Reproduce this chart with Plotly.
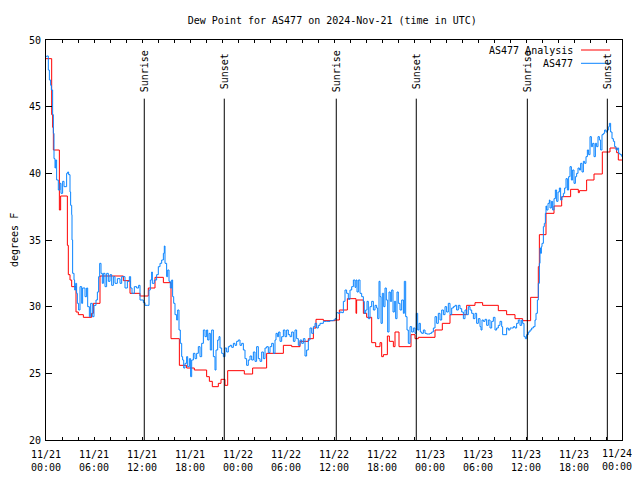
import pandas as pd
import plotly.graph_objects as go

BASE = "2024-11-21 00:00"

# AS477 observations: hours since BASE, dew point (F)
blue_hours = [
    0.0, 0.08, 0.29, 0.42, 0.58, 0.67, 0.83, 0.92, 1.0, 1.125, 1.21, 1.33, 1.54, 1.75, 1.875,
    2.08, 2.25, 2.58, 2.71, 2.83, 3.0, 3.08, 3.21, 3.25, 3.33, 3.5, 3.58, 3.71, 3.83, 3.92,
    4.08, 4.25, 4.46, 4.58, 4.875, 5.08, 5.21, 5.42, 5.58, 5.79, 6.0, 6.25, 6.42, 6.58, 6.71,
    6.875, 7.04, 7.17, 7.375, 7.58, 7.79, 8.0, 8.21, 8.42, 8.625, 8.92, 9.25, 9.46, 9.875,
    10.17, 10.42, 10.58, 10.75, 11.04, 11.33, 11.58, 11.75, 12.17,
    12.375, 12.71, 12.875, 13.04, 13.21, 13.29, 13.54, 13.83, 14.04, 14.25, 14.46, 14.67,
    14.79, 14.875, 15.08, 15.21, 15.375, 15.54, 15.71, 15.83, 15.96, 16.125, 16.33, 16.46,
    16.625, 16.79, 16.96, 17.08, 17.21, 17.375, 17.58, 17.71, 17.92, 18.08, 18.21, 18.42,
    18.625, 18.83, 19.04, 19.25, 19.46, 19.67, 19.875, 20.08, 20.21, 20.375, 20.54, 20.71,
    20.92, 21.125, 21.25, 21.46, 21.625, 21.75, 21.96, 22.17, 22.375, 22.58, 22.79, 23.0,
    23.21, 23.42, 23.625, 23.83, 24.04, 24.25, 24.46, 24.67, 24.875, 25.08, 25.29, 25.5,
    25.71, 25.92, 26.125, 26.33, 26.54, 26.75, 26.96, 27.17, 27.375, 27.58, 27.79, 28.0,
    28.21, 28.42, 28.625, 28.75, 28.92, 29.08, 29.25, 29.46, 29.67, 29.875, 30.08, 30.29,
    30.5, 30.71, 30.92, 31.125, 31.33, 31.54, 31.75, 31.96, 32.17, 32.375, 32.58, 32.79,
    33.0, 33.21, 33.42, 33.625, 33.83, 34.04, 34.25, 34.67, 35.08, 35.5, 35.92, 36.125,
    36.33, 36.54, 36.75, 36.96, 37.17, 37.375, 37.58, 37.79, 38.0, 38.21, 38.42, 38.625,
    38.75, 38.875, 39.04, 39.25, 39.46, 39.67, 39.79, 39.96, 40.125, 40.29, 40.5, 40.71,
    40.92, 41.125, 41.33, 41.46, 41.625, 41.75, 41.875, 42.04, 42.21, 42.375, 42.54, 42.71,
    42.875, 43.04, 43.21, 43.375, 43.54, 43.71, 43.875, 44.04, 44.25, 44.46, 44.67, 44.79,
    44.96, 45.125, 45.29, 45.5, 45.71, 45.92, 46.125, 46.29, 46.46, 46.625, 46.79, 46.96,
    47.17, 47.375, 47.58, 47.79, 48.0, 48.21, 48.42, 48.625, 48.83, 49.04, 49.25, 49.46,
    49.67, 49.875, 50.08, 50.29, 50.5, 50.71, 50.92, 51.125, 51.33, 51.54, 51.75,
    51.96, 52.17, 52.375, 52.58, 52.79, 53.0, 53.21, 53.42, 53.625, 53.83, 54.04, 54.25,
    54.375, 54.5, 54.67, 54.875, 55.08, 55.29, 55.5, 55.71, 55.92, 56.125, 56.33, 56.54,
    56.75, 56.96, 57.08, 57.375, 57.58, 57.79, 58.0, 58.21, 58.42, 58.625, 58.83, 59.04,
    59.25, 59.46, 59.58, 59.75, 59.92, 60.08, 60.29, 60.5, 60.71, 60.92, 61.125, 61.25,
    61.42, 61.54, 61.67, 61.75, 61.83, 61.92, 62.0, 62.17, 62.29, 62.42, 62.5, 62.58,
    62.75, 62.92, 63.0, 63.17, 63.33, 63.5, 63.67, 63.83, 64.0, 64.17, 64.33, 64.5, 64.67,
    64.83, 65.0, 65.17, 65.33, 65.5, 65.67, 65.83, 66.0, 66.17, 66.33, 66.5, 66.67, 66.83,
    67.0, 67.17, 67.33, 67.5, 67.67, 67.83, 68.0, 68.17, 68.33, 68.5, 68.67, 68.83, 69.0,
    69.17, 69.33, 69.5, 69.67, 69.83, 70.0, 70.17, 70.33, 70.42, 70.58, 70.75, 70.92,
    71.08, 71.25, 71.42, 71.58, 71.75, 71.96,
]
blue_vals = [
    48.75, 48.8, 47.75, 47.0, 46.6, 46.25, 44.4, 43.0, 41.1, 40.4, 41.0, 39.5, 38.75, 39.25, 38.5,
    39.4, 39.0, 40.0, 40.1, 39.9, 38.6, 37.6, 36.9, 35.0, 32.5, 32.0, 31.25, 31.75, 31.0, 30.25,
    29.75, 31.5, 30.25, 31.4, 30.75, 31.4, 30.0, 29.25, 30.25, 29.25, 30.1, 30.5, 31.1, 32.25, 33.25,
    32.5, 31.75, 32.5, 31.5, 32.5, 31.9, 32.4, 31.6, 32.25, 31.75, 32.1, 31.75, 32.25, 31.4,
    31.9, 32.25, 31.4, 31.0, 31.5, 31.4, 31.6, 30.5, 30.3,
    30.1, 30.1, 31.25, 32.0, 32.6, 31.75, 32.0, 32.4, 33.0, 33.25, 33.5, 34.0,
    34.55, 33.25, 32.25, 32.75, 31.9, 31.4, 32.0, 30.75, 30.25, 29.4, 29.0, 29.75,
    28.25, 27.25, 26.25, 26.0, 25.4, 25.75, 26.25, 25.5, 26.1, 24.75, 26.0, 26.5,
    26.1, 26.5, 27.0, 26.25, 27.25, 28.25, 27.75, 28.25, 27.5, 28.0, 26.75, 28.25,
    26.25, 25.25, 26.75, 27.5, 27.75, 26.9, 26.5, 26.25, 26.9, 26.6, 27.0, 27.1,
    26.95, 27.25, 27.1, 27.4, 27.5, 27.1, 27.25, 26.75, 26.1, 25.6, 26.0, 26.3,
    26.0, 26.6, 25.9, 27.0, 26.1, 25.9, 26.6, 26.1, 26.9, 27.0, 26.55, 27.0,
    27.25, 26.5, 27.5, 28.0, 27.75, 28.1, 27.4, 27.75, 28.25, 27.75, 28.25, 27.9,
    27.75, 28.1, 27.4, 28.25, 27.6, 27.1, 27.5, 27.25, 27.6, 26.3, 26.75, 27.5,
    28.4, 28.0, 28.5, 28.75, 28.4, 28.6, 28.75, 28.9, 28.9, 28.95, 29.0, 29.1,
    29.55, 29.5, 29.6, 29.55, 30.4, 31.25, 31.0, 30.55, 31.25, 31.5, 32.0, 31.45,
    32.0, 31.1, 32.0, 31.0, 30.75, 30.4, 29.5, 29.75, 30.4, 29.1, 30.0, 30.4,
    29.75, 30.1, 29.9, 29.1, 31.9, 30.75, 28.75, 31.0, 30.0, 31.4, 30.5, 28.1,
    31.1, 30.4, 31.25, 29.6, 30.4, 29.1, 31.1, 30.25, 29.75, 30.5, 29.5, 31.9,
    29.25, 28.25, 27.25, 28.5, 28.1, 28.4, 28.0, 29.5, 28.25, 28.75, 28.1, 28.0,
    28.25, 28.0, 27.95, 27.95, 28.0, 28.1, 28.4, 29.25, 28.75, 29.5, 29.0, 29.75,
    29.4, 30.0, 29.6, 30.25, 29.4, 29.9, 30.0, 30.1, 29.75, 30.1, 29.85,
    29.6, 29.1, 29.75, 29.4, 30.0, 29.75, 29.5, 29.1, 29.5, 28.75, 29.1, 28.5,
    28.25, 29.0, 28.9, 29.05, 28.6, 29.0, 28.4, 28.9, 29.2, 28.25, 28.4, 28.6,
    28.9, 28.5, 27.9, 27.9, 28.4, 28.25, 28.4, 28.4, 28.5, 28.4, 28.75, 29.0,
    28.6, 29.0, 28.75, 27.75, 27.6, 27.9, 28.1, 28.25, 28.4, 28.5, 29.0, 29.5,
    30.5, 31.75, 33.25, 34.4, 34.0, 34.5, 34.75, 36.0, 36.25, 37.0, 37.55, 37.25,
    37.75, 38.0, 37.4, 37.9, 37.25, 38.1, 38.75, 37.9, 38.6, 38.9, 38.0, 38.25, 38.5,
    38.9, 39.6, 38.75, 39.75, 40.5, 39.5, 40.25, 39.25, 39.75, 40.0, 40.4, 40.25, 40.75,
    40.1, 40.9, 40.75, 41.25, 41.75, 41.4, 42.75, 42.0, 42.25, 41.25, 42.25, 42.0, 42.75,
    42.5, 41.75, 42.9, 43.0, 43.25, 43.1, 43.25, 43.5, 43.75, 43.1, 42.6, 42.4,
    42.0, 41.75, 41.9, 41.5, 41.4, 41.25,
]

# AS477 Analysis: step start (hours since BASE), dew point (F)
red_hours = [
    0.0, 0.71, 0.83, 0.92, 1.67, 1.83, 2.67, 2.79, 3.0, 3.21, 3.75, 4.04, 4.67, 5.7, 5.92,
    6.75, 9.67, 10.5, 11.75, 12.79, 13.625, 14.67, 15.625, 16.67, 17.58, 18.54, 20.08,
    20.42, 20.79, 21.54, 21.875, 22.375, 22.71, 24.79, 25.83, 27.58, 29.67, 30.71, 31.75,
    32.79, 33.42, 33.75, 34.67, 36.125, 36.67, 37.67, 38.75, 38.83, 39.67, 40.08, 40.71,
    41.21, 41.75, 41.96, 42.17, 42.67, 42.92, 43.42, 43.625, 44.125, 45.625, 46.125,
    46.54, 48.625, 49.54, 50.5, 52.58, 53.625, 54.58, 56.54, 57.58, 58.625, 59.58, 60.58,
    61.54, 61.67, 62.5, 63.5, 64.46, 65.58, 66.54, 66.67, 67.58, 68.5, 69.54, 70.5, 71.33,
    71.54, 72.0,
]
red_vals = [
    48.6, 44.4, 43.45, 41.75, 37.25, 38.3, 34.6, 32.4, 32.0, 31.5, 29.6, 29.4, 29.2, 29.5, 30.25,
    32.3, 31.95, 31.0, 30.8, 31.4, 32.2, 31.8, 27.6, 25.6, 25.4, 25.25, 24.75,
    24.4, 24.0, 24.25, 24.55, 24.1, 25.2, 24.95, 25.4, 26.5, 27.1, 27.0, 27.4,
    27.6, 28.4, 29.05, 28.95, 29.0, 29.75, 30.6, 29.5, 30.5, 29.5, 29.2, 27.3,
    27.0, 27.3, 26.25, 26.4, 27.8, 27.4, 27.0, 28.1, 27.0, 27.9, 27.6,
    27.7, 28.25, 28.75, 29.4, 30.1, 30.3, 30.1, 29.7, 29.4, 29.1, 28.95, 30.7,
    33.0, 35.4, 37.0, 37.55, 38.25, 38.8, 38.55, 38.7, 39.5, 39.95, 41.6, 41.9, 41.55,
    41.0, 41.0,
]

events = ["Sunrise", "Sunset", "Sunrise", "Sunset", "Sunrise", "Sunset"]
event_times = ["2024-11-21 12:17", "2024-11-21 22:17", "2024-11-22 12:17",
               "2024-11-22 22:17", "2024-11-23 12:10", "2024-11-23 22:10"]
event_line_top = 45.6

tick_times = pd.date_range("2024-11-21 00:00", "2024-11-24 00:00", freq="6h")
tick_labels = ["11/21<br>00:00", "11/21<br>06:00", "11/21<br>12:00", "11/21<br>18:00",
               "11/22<br>00:00", "11/22<br>06:00", "11/22<br>12:00", "11/22<br>18:00",
               "11/23<br>00:00", "11/23<br>06:00", "11/23<br>12:00", "11/23<br>18:00",
               "11/24<br>00:00"]
y_ticks = [20, 25, 30, 35, 40, 45, 50]

series_names = ["AS477 Analysis", "AS477"]
RED = "#ff0000"
BLUE = "#0a84ff"
FONT = "DejaVu Sans Mono"

# the page body adds an 8px offset; margins compensate so the plot box lands at 46..622 x 40..440
OFF = 8
FIG_W, FIG_H = 640, 464

base = pd.Timestamp(BASE)
bx = base + pd.to_timedelta(blue_hours, unit="h")
rx = base + pd.to_timedelta(red_hours, unit="h")

fig = go.Figure()
fig.add_trace(go.Scatter(x=rx, y=red_vals, mode="lines", line=dict(color=RED, width=1, shape="hv"),
                         name=series_names[0], showlegend=False))
fig.add_trace(go.Scatter(x=bx, y=blue_vals, mode="lines", line=dict(color=BLUE, width=1, shape="hv"),
                         name=series_names[1], showlegend=False))

for name, t in zip(events, event_times):
    fig.add_shape(type="line", x0=t, x1=t, y0=20, y1=event_line_top, xref="x", yref="y",
                  line=dict(color="black", width=1))
    fig.add_annotation(x=t, xref="x", y=(440 - 71) / 400, yref="paper", text=name,
                       textangle=-90, showarrow=False, xanchor="center", yanchor="middle",
                       font=dict(family=FONT, size=10, color="black"))

# legend drawn gnuplot-style (text then sample on the right)
for i, (nm, col) in enumerate(zip(series_names, [RED, BLUE])):
    py = 50 + i * 13.3
    yp = (440 - py) / 400
    fig.add_annotation(x=(575 - 46) / 576, xref="paper", y=yp, yref="paper", text=nm,
                       showarrow=False, xanchor="right", yanchor="middle",
                       font=dict(family=FONT, size=10, color="black"))
    fig.add_shape(type="line", xref="paper", yref="paper", x0=(581 - 46) / 576, x1=(610 - 46) / 576,
                  y0=yp, y1=yp, line=dict(color=col, width=1))

fig.add_annotation(x=(14 - 46) / 576, xref="paper", y=0.5, yref="paper", text="degrees F",
                   textangle=-90, showarrow=False, xanchor="center", yanchor="middle",
                   font=dict(family=FONT, size=10, color="black"))

# last tick label is drawn as an annotation, right-aligned so it stays inside the visible page
shown_ticktext = tick_labels[:-1] + [""]
fig.add_annotation(x=(633 - 46) / 576, xref="paper", y=(440 - 447) / 400, yref="paper",
                   text=tick_labels[-1], showarrow=False, xanchor="right", yanchor="top",
                   align="center", borderpad=0,
                   font=dict(family=FONT, size=10, color="black"))

fig.update_layout(
    width=FIG_W, height=FIG_H,
    margin=dict(l=46 - OFF, r=FIG_W - (622 - OFF), t=40 - OFF, b=FIG_H - (440 - OFF), autoexpand=False),
    paper_bgcolor="white", plot_bgcolor="white",
    font=dict(family=FONT, size=10, color="black"),
    title=dict(text="Dew Point for AS477 on 2024-Nov-21 (time in UTC)", xref="paper", x=0.497,
               xanchor="center", yref="container", y=1 - (20 - OFF) / FIG_H, yanchor="middle",
               font=dict(family=FONT, size=10, color="black")),
    showlegend=False,
)
fig.update_xaxes(range=["2024-11-21 00:00", "2024-11-24 00:00"], showgrid=False, zeroline=False,
                 showline=True, linecolor="black", linewidth=1, mirror="allticks",
                 ticks="inside", ticklen=3, tickcolor="black", ticklabelstandoff=5,
                 tickvals=tick_times, ticktext=shown_ticktext,
                 minor=dict(dtick=2 * 3600 * 1000, ticks="inside", ticklen=3, tickcolor="black"))
fig.update_yaxes(range=[20, 50], showgrid=False, zeroline=False, showline=True, linecolor="black",
                 linewidth=1, mirror="allticks", ticks="inside", ticklen=6, tickcolor="black",
                 ticklabelstandoff=2, tickvals=y_ticks)

fig.write_html("out.html")
